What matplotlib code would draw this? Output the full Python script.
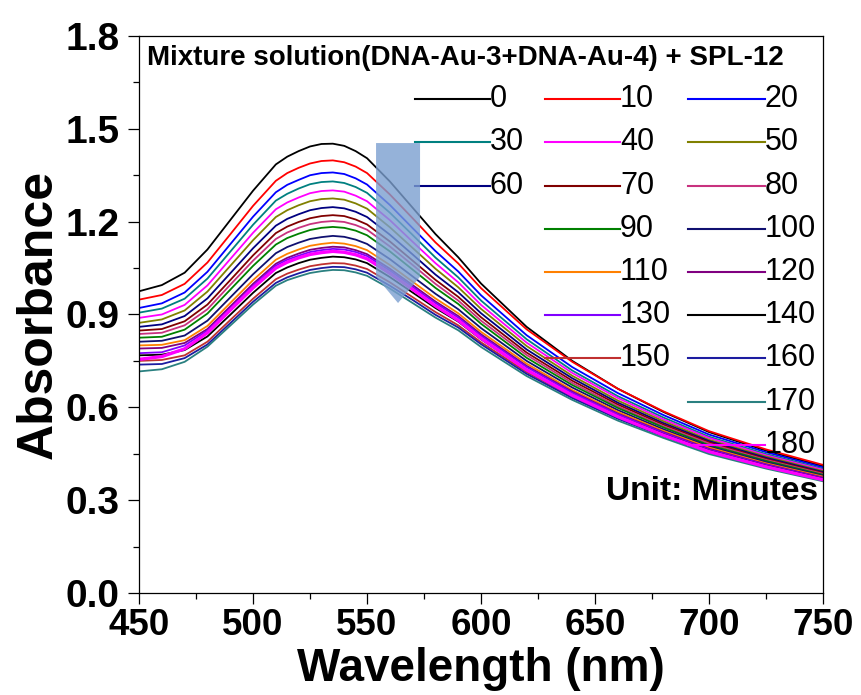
import numpy as np
import matplotlib
matplotlib.use('Agg')
import matplotlib.pyplot as plt

# wavelength grid (nm) where the spectra were read
wavelength = [450, 460, 470, 480, 490, 500, 510, 520, 530, 540, 550, 560,
              570, 580, 590, 600, 620, 640, 660, 680, 700, 725, 750]
# extra readings around the band maximum
wavelength_peak = [515, 525, 535, 545]

# absorbance spectra, one per time point (minutes)
times = [0, 10, 20, 30, 40, 50, 60, 70, 80, 90, 100, 110, 120, 130, 140, 150, 160, 170, 180]
spectra = [
    [.975, .995, 1.035, 1.110, 1.205, 1.300, 1.385, 1.428, 1.451, 1.445, 1.405, 1.330, 1.245, 1.160, 1.085, 1.000, .860, .750, .660, .585, .520, .460, .410],
    [.948, .963, .999, 1.068, 1.159, 1.251, 1.332, 1.374, 1.396, 1.392, 1.357, 1.288, 1.211, 1.133, 1.065, .985, .852, .747, .660, .587, .523, .464, .414],
    [.921, .936, .971, 1.038, 1.127, 1.216, 1.295, 1.335, 1.357, 1.354, 1.320, 1.254, 1.179, 1.105, 1.039, .962, .833, .730, .646, .575, .512, .455, .406],
    [.906, .919, .951, 1.016, 1.103, 1.190, 1.268, 1.307, 1.328, 1.325, 1.293, 1.229, 1.157, 1.084, 1.020, .945, .820, .719, .636, .567, .505, .449, .401],
    [.889, .900, .931, .994, 1.079, 1.164, 1.240, 1.278, 1.299, 1.297, 1.266, 1.205, 1.135, 1.066, 1.004, .931, .809, .711, .630, .561, .501, .445, .398],
    [.873, .884, .913, .974, 1.057, 1.140, 1.215, 1.253, 1.273, 1.271, 1.242, 1.182, 1.115, 1.048, .988, .918, .798, .702, .622, .555, .495, .441, .394],
    [.860, .868, .895, .952, 1.033, 1.114, 1.187, 1.224, 1.244, 1.243, 1.215, 1.158, 1.094, 1.029, .972, .904, .787, .694, .615, .549, .491, .437, .391],
    [.848, .853, .878, .932, 1.011, 1.091, 1.163, 1.199, 1.218, 1.218, 1.191, 1.136, 1.074, 1.012, .957, .891, .777, .686, .609, .544, .487, .433, .388],
    [.837, .841, .865, .917, .996, 1.074, 1.144, 1.180, 1.199, 1.199, 1.174, 1.120, 1.060, .999, .945, .880, .769, .679, .603, .539, .483, .430, .385],
    [.825, .828, .851, .903, .980, 1.057, 1.126, 1.161, 1.180, 1.180, 1.156, 1.104, 1.045, .986, .934, .870, .760, .672, .598, .535, .478, .427, .382],
    [.812, .815, .832, .880, .955, 1.030, 1.098, 1.132, 1.150, 1.151, 1.128, 1.079, 1.023, .967, .917, .856, .750, .664, .591, .529, .474, .423, .379],
    [.800, .802, .817, .863, .937, 1.011, 1.077, 1.110, 1.128, 1.129, 1.108, 1.060, 1.006, .952, .904, .844, .741, .656, .585, .524, .470, .419, .376],
    [.790, .792, .808, .853, .926, .999, 1.064, 1.097, 1.115, 1.117, 1.095, 1.048, .995, .942, .895, .836, .734, .651, .580, .520, .466, .416, .373],
    [.775, .778, .800, .848, .920, .993, 1.058, 1.090, 1.108, 1.110, 1.089, 1.042, .989, .937, .890, .831, .730, .647, .577, .517, .463, .414, .371],
    [.768, .770, .785, .829, .899, .970, 1.034, 1.066, 1.083, 1.085, 1.066, 1.021, .971, .921, .877, .820, .721, .640, .572, .513, .460, .411, .369],
    [.750, .753, .768, .812, .882, .951, 1.014, 1.045, 1.062, 1.065, 1.047, 1.004, .956, .908, .865, .810, .714, .635, .567, .509, .457, .409, .367],
    [.738, .740, .759, .803, .872, .941, 1.002, 1.033, 1.050, 1.053, 1.035, .993, .947, .899, .858, .804, .708, .630, .563, .506, .454, .406, .365],
    [.716, .723, .747, .796, .864, .932, .993, 1.023, 1.040, 1.043, 1.025, .984, .937, .890, .849, .795, .701, .624, .557, .501, .449, .402, .361],
    [.755, .764, .789, .841, .914, .986, 1.050, 1.083, 1.100, 1.101, 1.080, 1.033, .981, .928, .881, .823, .721, .639, .570, .510, .457, .408, .366],
]
spectra_peak = [
    [1.410, 1.443, 1.452, 1.428],
    [1.357, 1.388, 1.398, 1.378],
    [1.319, 1.350, 1.359, 1.340],
    [1.290, 1.321, 1.330, 1.312],
    [1.262, 1.292, 1.301, 1.284],
    [1.237, 1.266, 1.275, 1.259],
    [1.209, 1.237, 1.247, 1.232],
    [1.184, 1.211, 1.221, 1.207],
    [1.165, 1.192, 1.202, 1.189],
    [1.147, 1.173, 1.183, 1.171],
    [1.118, 1.144, 1.154, 1.142],
    [1.096, 1.122, 1.132, 1.121],
    [1.083, 1.109, 1.119, 1.108],
    [1.077, 1.102, 1.112, 1.102],
    [1.052, 1.077, 1.087, 1.078],
    [1.032, 1.056, 1.066, 1.058],
    [1.020, 1.044, 1.054, 1.046],
    [1.011, 1.034, 1.044, 1.036],
    [1.069, 1.094, 1.104, 1.093],
]
colors = ['#000000', '#ff0000', '#0000ff', '#008080', '#ff00ff', '#808000', '#000080',
          '#800000', '#c8327f', '#008000', '#101070', '#ff8000', '#800080', '#8000ff',
          '#000000', '#c03030', '#1c1ca0', '#2a8080', '#ff00ff']

# legend grid slot (row, column) of each time point
legend_slots = [(0, 0), (0, 1), (0, 2), (1, 0), (1, 1), (1, 2), (2, 0), (2, 1), (2, 2),
                (3, 1), (3, 2), (4, 1), (4, 2), (5, 1), (5, 2), (6, 1), (6, 2), (7, 2), (8, 2)]

plt.rcParams['font.family'] = ['Liberation Sans', 'DejaVu Sans']

fig = plt.figure(figsize=(8.62, 6.95), dpi=100)
ax = fig.add_axes([0.1613, 0.1468, 0.7935, 0.8014])

x_all = np.array(wavelength + wavelength_peak)
order = np.argsort(x_all)
for i in range(len(times)):
    y_all = np.array(spectra[i] + spectra_peak[i])
    lw = 2.4 if times[i] == 180 else 1.3
    ax.plot(x_all[order], y_all[order], color=colors[i], lw=lw)

# arrow marking the decrease of the plasmon band
ax.arrow(563.6, 1.454, 0, -0.517, width=19.3, head_width=19.3, head_length=0.085,
         length_includes_head=True, fc='#7b9fd0', ec='none', alpha=0.8, zorder=5)

ax.set_xlim(450, 750)
ax.set_ylim(0, 1.8)
ax.set_xticks(np.arange(450, 751, 50))
ax.set_xticks(np.arange(475, 750, 50), minor=True)
ax.set_yticks(np.arange(0, 1.81, 0.3))
ax.set_yticks(np.arange(0.15, 1.8, 0.3), minor=True)
ax.yaxis.set_major_formatter(plt.FormatStrFormatter('%.1f'))
ax.tick_params(which='major', direction='out', length=8, width=0.9, top=False, right=False)
ax.tick_params(which='minor', direction='out', length=4, width=0.9, top=False, right=False)
ax.tick_params(axis='y', pad=6)
ax.tick_params(axis='x', pad=3)
for lab in ax.get_yticklabels():
    lab.set_fontsize(28)
    lab.set_fontweight('bold')
for lab in ax.get_xticklabels():
    lab.set_fontsize(26.5)
    lab.set_fontweight('bold')
for s in ax.spines.values():
    s.set_linewidth(0.9)

ax.set_xlabel('Wavelength (nm)', fontsize=33, fontweight='bold')
ax.xaxis.set_label_coords(0.5, -0.097)
ax.set_ylabel('Absorbance', fontsize=36, fontweight='bold', labelpad=2.5)

# title and hand placed legend (axes fraction coordinates)
ax.text(0.011, 0.961, 'Mixture solution(DNA-Au-3+DNA-Au-4) + SPL-12', transform=ax.transAxes,
        fontsize=20, fontweight='bold', va='center', ha='left')
row_y = [0.886, 0.809, 0.730, 0.653, 0.576, 0.499, 0.422, 0.343, 0.266]
col_x = [(0.404, 0.513), (0.593, 0.703), (0.803, 0.915)]
for i in range(len(times)):
    r, c = legend_slots[i]
    x0, x1 = col_x[c]
    ax.plot([x0, x1], [row_y[r], row_y[r]], color=colors[i], lw=1.5, transform=ax.transAxes)
    ax.text(x1, row_y[r], str(times[i]), transform=ax.transAxes, fontsize=22,
            va='center', ha='left')
ax.text(0.993, 0.183, 'Unit: Minutes', transform=ax.transAxes, fontsize=24,
        fontweight='bold', va='center', ha='right')

fig.savefig('out.png', dpi=100)
